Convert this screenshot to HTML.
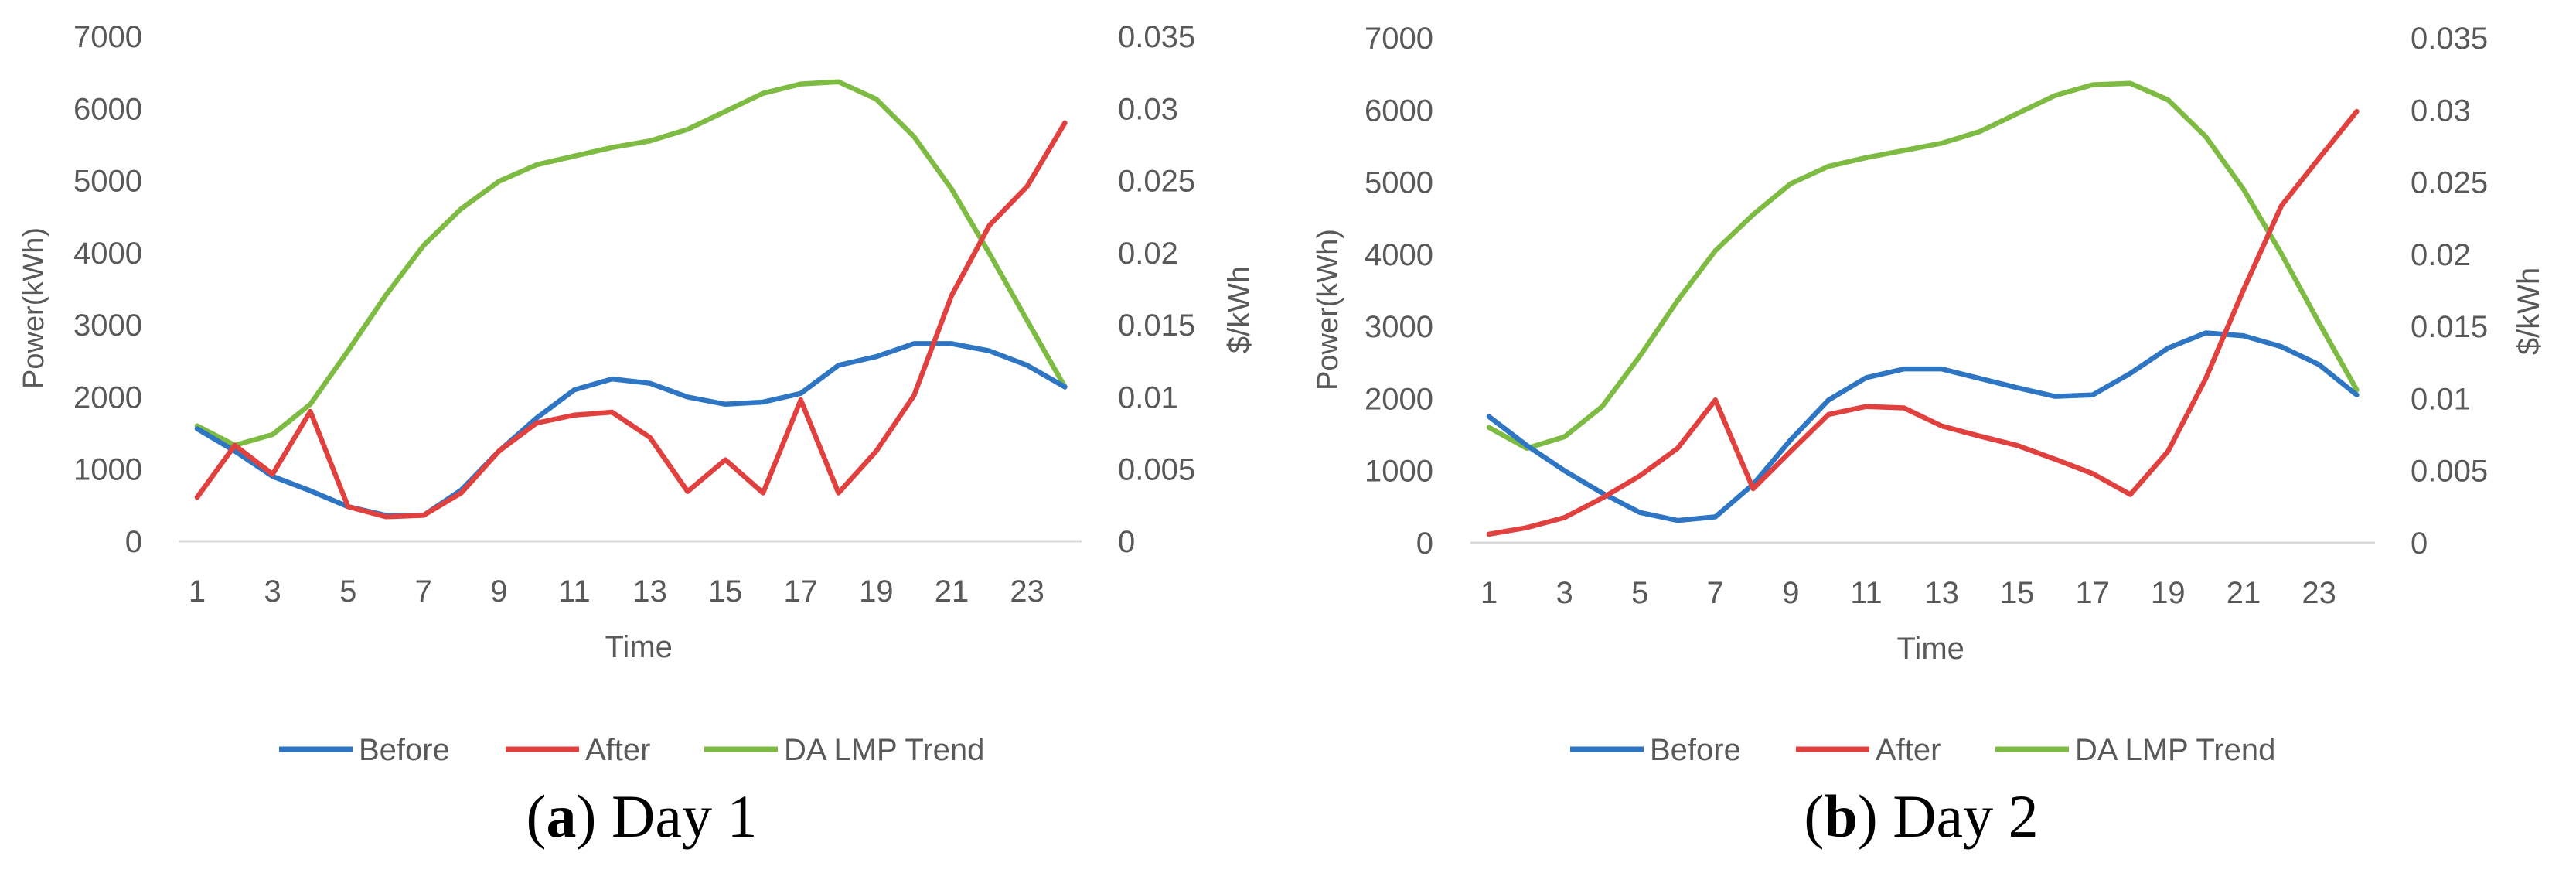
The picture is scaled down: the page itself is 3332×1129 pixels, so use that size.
<!DOCTYPE html>
<html><head><meta charset="utf-8"><style>
html,body{margin:0;padding:0;background:#fff;}
svg{display:block;}
text{font-family:"Liberation Sans",sans-serif;fill:#595959;}
.cap{font-family:"Liberation Serif",serif;fill:#000;}
</style></head><body>
<svg id="fig" width="3332" height="1129" viewBox="0 0 3332 1129" xmlns="http://www.w3.org/2000/svg"></svg>
<script>
const hours = [1,2,3,4,5,6,7,8,9,10,11,12,13,14,15,16,17,18,19,20,21,22,23,24];
const xTickLabels = [1,3,5,7,9,11,13,15,17,19,21,23];
const leftTicks = [0,1000,2000,3000,4000,5000,6000,7000];
const rightTicks = ["0","0.005","0.01","0.015","0.02","0.025","0.03","0.035"];
const day1Before = [1560,1250,900,700,480,360,360,710,1250,1710,2100,2250,2190,2000,1900,1930,2050,2440,2560,2740,2740,2640,2440,2140];
const day1After = [610,1330,930,1800,480,340,360,670,1250,1640,1750,1790,1440,690,1130,670,1960,670,1250,2020,3410,4380,4920,5800];
const day1Lmp = [0.008,0.00665,0.0074,0.0095,0.0132,0.01705,0.0205,0.02305,0.02495,0.0261,0.0267,0.0273,0.02775,0.02855,0.0298,0.03105,0.0317,0.03185,0.03065,0.02805,0.0244,0.01995,0.0153,0.0107];
const day2Before = [1750,1350,1000,690,420,310,360,810,1430,1980,2290,2410,2410,2280,2150,2030,2050,2350,2700,2910,2870,2720,2470,2050];
const day2After = [120,210,350,620,930,1310,1980,750,1270,1780,1890,1870,1620,1480,1350,1160,960,670,1270,2280,3510,4670,5330,5980];
const day2Lmp = [0.008,0.00655,0.00735,0.00945,0.01295,0.0168,0.02025,0.02275,0.0249,0.0261,0.0267,0.0272,0.0277,0.0285,0.02975,0.031,0.03175,0.03185,0.0307,0.02815,0.0245,0.02005,0.01525,0.0106];

const NS="http://www.w3.org/2000/svg";
const svg=document.getElementById('fig');
function mk(tag,attrs,parent){const e=document.createElementNS(NS,tag);for(const k in attrs)e.setAttribute(k,attrs[k]);(parent||svg).appendChild(e);return e;}

function chart(cfg){
  const g=mk('g',{});
  
  
  const x=h=>cfg.x1+(h-1)*cfg.step;
  const yL=v=>cfg.y0-v*(cfg.y0-cfg.y7)/7000;
  const yR=v=>cfg.y0-v*(cfg.y0-cfg.y7)/0.035;
  const axis=mk('line',{x1:cfg.ax0,x2:cfg.ax1,y1:cfg.y0,y2:cfg.y0,stroke:'#d9d9d9','stroke-width':3},g);
  
  
  leftTicks.forEach(v=>{const t=mk('text',{x:cfg.lx,y:yL(v)+14,'text-anchor':'end','font-size':40},g);t.textContent=v;
    });
  rightTicks.forEach((s,i)=>{const t=mk('text',{x:cfg.rx,y:yL(i*1000)+14,'font-size':40},g);t.textContent=s;
    });
  xTickLabels.forEach(h=>{const t=mk('text',{x:x(h),y:cfg.y0+78,'text-anchor':'middle','font-size':40},g);t.textContent=h;
    });
  let t=mk('text',{x:cfg.x1+(cfg.step*23)/2+10,y:cfg.y0+150,'text-anchor':'middle','font-size':40},g);t.textContent='Time';
  
  t=mk('text',{x:0,y:0,'text-anchor':'middle','font-size':38,transform:`translate(${cfg.plx},${(cfg.y0+cfg.y7)/2+25}) rotate(-90)`},g);t.textContent='Power(kWh)';
  
  t=mk('text',{x:0,y:0,'text-anchor':'middle','font-size':40,transform:`translate(${cfg.prx},${(cfg.y0+cfg.y7)/2+27}) rotate(-90)`},g);t.textContent='$/kWh';
  
  const series=[[cfg.before,'#2e75c4',yL,'before-line'],[cfg.after,'#e0413f',yL,'after-line'],[cfg.lmp,'#7dbb42',yR,'lmp-trend-line']];
  [series[2],series[0],series[1]].forEach(s=>{
    const p=mk('polyline',{points:s[0].map((v,i)=>x(hours[i])+','+s[2](v)).join(' '),fill:'none',stroke:s[1],'stroke-width':6.5,'stroke-linejoin':'round','stroke-linecap':'round'},g);
    
  });
  const leg=[['Before','#2e75c4',cfg.lg[0]],['After','#e0413f',cfg.lg[1]],['DA LMP Trend','#7dbb42',cfg.lg[2]]];
  leg.forEach(l=>{
    const le=mk('g',{},g);
    
    mk('line',{x1:l[2],x2:l[2]+95,y1:969,y2:969,stroke:l[1],'stroke-width':7},le);
    const tt=mk('text',{x:l[2]+103,y:983,'font-size':40},le);tt.textContent=l[0];
  });
  const c=mk('text',{x:cfg.capx,y:1082,'text-anchor':'middle','font-size':78,class:'cap'},g);
  
  const b=mk('tspan',{'font-weight':'bold'},c);
  c.insertBefore(document.createTextNode('('),b);b.textContent=cfg.letter;
  c.appendChild(document.createTextNode(') '+cfg.day));
}
chart({name:'chart-day1',x1:255,step:48.8,y0:700,y7:47,ax0:231,ax1:1399,lx:184,rx:1446,plx:56,prx:1616,
  before:day1Before,after:day1After,lmp:day1Lmp,lg:[361,654,911],capx:830,letter:'a',day:'Day 1'});
chart({name:'chart-day2',x1:1926,step:48.8,y0:702,y7:49,ax0:1902,ax1:3072,lx:1854,rx:3118,plx:1730,prx:3284,
  before:day2Before,after:day2After,lmp:day2Lmp,lg:[2031,2323,2581],capx:2485,letter:'b',day:'Day 2'});
</script>
</body></html>
